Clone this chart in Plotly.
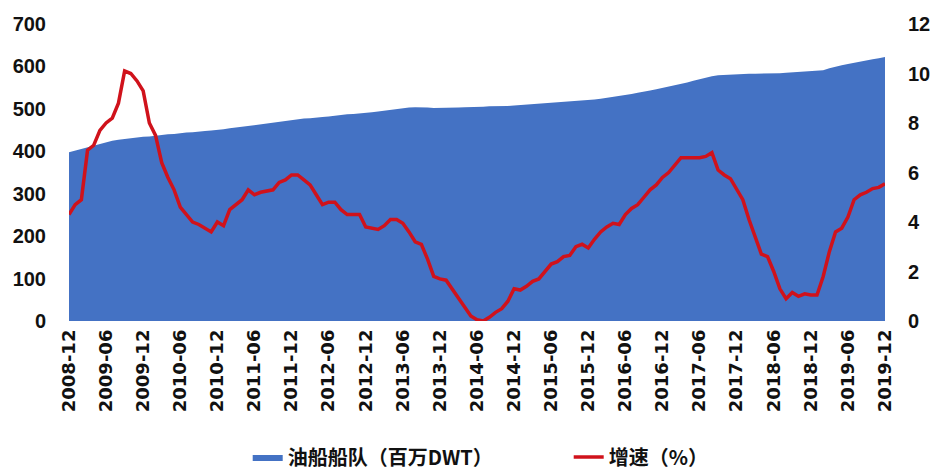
import plotly.graph_objects as go
import pandas as pd

months = [p.strftime("%Y-%m") for p in pd.period_range("2008-12", "2019-12", freq="M")]

fleet = [
    398, 402, 406, 410, 414, 418, 422, 425, 427, 429, 431, 432,
    434, 435, 437, 438, 440, 441, 443, 444, 445, 447, 448, 449,
    450, 452, 454, 456, 458, 460, 462, 464, 466, 468, 470, 472,
    474, 475, 477, 478, 480, 481, 482, 484, 485, 487, 488, 489,
    490, 492, 494, 496, 498, 500, 502, 503, 504, 504, 503, 502,
    502, 502, 503, 503, 504, 504, 505, 505, 506, 506, 507, 507,
    508, 509, 510, 511, 512, 513, 514, 515, 516, 517, 518, 519,
    520, 522, 524, 526, 528, 530, 533, 535, 538, 540, 543, 546,
    549, 552, 555, 558, 562, 566, 570, 574, 577, 579, 580, 581,
    582, 582, 583, 583, 583, 583, 584, 584, 585, 586, 587, 588,
    589, 590, 591, 596, 600, 603, 606, 609, 612, 614, 617, 619, 622,
]

growth = [
    4.3, 4.7, 4.9, 6.9, 7.1, 7.7, 8.0, 8.2, 8.8, 10.1, 10.0, 9.7,
    9.3, 8.0, 7.5, 6.4, 5.8, 5.3, 4.6, 4.3, 4.0, 3.9, 3.75, 3.6,
    4.0, 3.85, 4.5, 4.7, 4.9, 5.3, 5.1, 5.2, 5.25, 5.3, 5.6, 5.7,
    5.9, 5.9, 5.7, 5.5, 5.1, 4.7, 4.8, 4.8, 4.5, 4.3, 4.3, 4.3,
    3.8, 3.75, 3.7, 3.85, 4.1, 4.1, 3.95, 3.6, 3.2, 3.1, 2.5, 1.8,
    1.7, 1.65, 1.3, 0.9, 0.6, 0.2, 0.05, 0.0, 0.15, 0.35, 0.5, 0.8,
    1.3, 1.25, 1.4, 1.6, 1.7, 2.0, 2.3, 2.4, 2.6, 2.65, 3.0, 3.1,
    2.95, 3.3, 3.6, 3.8, 3.95, 3.9, 4.3, 4.55, 4.7, 5.0, 5.3, 5.5,
    5.8, 6.0, 6.3, 6.6, 6.6, 6.6, 6.6, 6.65, 6.8, 6.1, 5.9, 5.75,
    5.3, 4.9, 4.1, 3.4, 2.7, 2.6, 2.0, 1.3, 0.9, 1.15, 1.0, 1.1,
    1.05, 1.05, 1.8, 2.8, 3.6, 3.75, 4.2, 4.9, 5.1, 5.2, 5.35, 5.4, 5.55,
]

tick_labels = months[::6]
left_ticks = [0, 100, 200, 300, 400, 500, 600, 700]
right_ticks = [0, 2, 4, 6, 8, 10, 12]

FONT = "Liberation Sans, Arial, sans-serif"
XFONT = "DejaVu Sans, Liberation Sans, sans-serif"
CJK = "Noto Sans CJK SC, Liberation Sans, sans-serif"

fig = go.Figure()
fig.add_trace(go.Scatter(
    x=months, y=fleet, name="油船船队（百万DWT）",
    fill="tozeroy", fillcolor="#4472C4", mode="lines",
    line=dict(color="#4472C4", width=0),
))
fig.add_trace(go.Scatter(
    x=months, y=growth, name="增速（%）", yaxis="y2",
    mode="lines", line=dict(color="#D0121B", width=3.5),
))

fig.update_layout(
    width=931, height=465,
    margin=dict(l=61, r=54, t=16, b=152, autoexpand=False),
    paper_bgcolor="white", plot_bgcolor="white",
    showlegend=True,
    legend=dict(orientation="h", x=0.219, xanchor="left", y=-0.458, yanchor="middle",
                font=dict(family=CJK, size=20, color="#111", weight="bold"),
                entrywidth=276, entrywidthmode="pixels", tracegroupgap=0),
    xaxis=dict(type="category", range=[0, len(months) - 1],
               tickmode="array", tickvals=tick_labels, ticktext=tick_labels,
               tickangle=-90, showgrid=False, showline=False, zeroline=False, ticks="",
               automargin=False, ticklabelstandoff=4,
               tickfont=dict(family=XFONT, size=18, color="#111", weight="bold")),
    yaxis=dict(range=[0, 700], tickvals=left_ticks, showgrid=False, zeroline=False,
               showline=False, ticks="", ticklabelstandoff=22, automargin=False,
               tickfont=dict(family=FONT, size=20, color="#111", weight="bold")),
    yaxis2=dict(range=[0, 12], tickvals=right_ticks, overlaying="y", side="right",
                showgrid=False, zeroline=False, showline=False, ticks="", ticklabelstandoff=22,
                automargin=False,
                tickfont=dict(family=FONT, size=20, color="#111", weight="bold")),
)

fig.write_html("out.html")
